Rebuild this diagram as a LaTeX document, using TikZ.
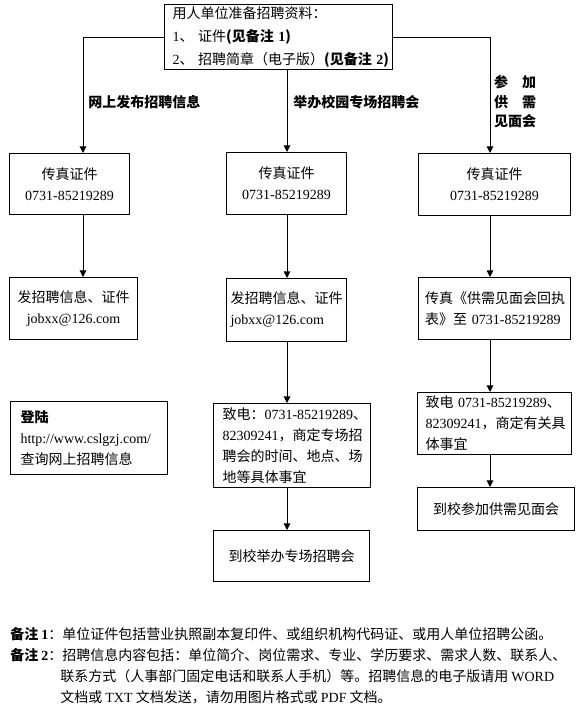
\documentclass[tikz,border=0pt]{standalone}
\usepackage{fontspec}
\setmainfont{Noto Sans CJK SC}
\newfontfamily\lat{Liberation Serif}
\usetikzlibrary{arrows.meta}

\begin{document}
\begin{tikzpicture}[x=0.75pt, y=-0.75pt,
  font=\fontsize{10.5}{15.75}\selectfont,
  box/.style={draw, line width=0.75pt, inner xsep=6pt, inner ysep=0pt, anchor=north west},
  lbl/.style={font=\fontsize{10.5}{15.75}\selectfont\bfseries, inner sep=0pt},
  arr/.style={line width=0.75pt, -{Triangle[length=5pt, width=5pt]}}]
  \useasboundingbox (0,0) rectangle (579,721);

  \node[box, text width=159pt, minimum height=48.75pt, align=left,
    font=\fontsize{10.5}{17.6}\selectfont] (top) at (164,4)
    {用人单位准备招聘资料：\\
     \mbox{{\lat 1}、 证件{\bfseries (见备注 {\lat 1})}}\\
     \mbox{{\lat 2}、 招聘简章（电子版）{\bfseries (见备注 {\lat 2})}}};

  \coordinate (ka) at (83,36);
  \coordinate (kb) at (287,36);
  \coordinate (kc) at (490,39);

  \node[lbl, anchor=west] (labela) at (88,102) {网上发布招聘信息};
  \node[lbl, anchor=west] (labelb) at (293,102) {举办校园专场招聘会};
  \node[lbl, align=left, font=\fontsize{10.5}{14.6}\selectfont\bfseries] (labelc) at (515,102)
    {参\quad 加\\供\quad 需\\见面会};

  \node[box, text width=78pt, minimum height=45.75pt, align=center] (faxa) at (9,153)
    {传真证件\\{\lat 0731-85219289}};
  \node[box, text width=78pt, minimum height=46.5pt, align=center] (faxb) at (226,152)
    {传真证件\\{\lat 0731-85219289}};
  \node[box, text width=102pt, minimum height=46.5pt, align=center] (faxc) at (418,153)
    {传真证件\\{\lat 0731-85219289}};

  \node[box, text width=84pt, minimum height=46.5pt, align=center] (senda) at (9,277)
    {发招聘信息、证件\\{\lat jobxx@126.com}};
  \node[box, inner xsep=3pt, text width=84pt, minimum height=47.25pt, align=left] (sendb) at (226,278)
    {发招聘信息、证件\\{\lat jobxx@126.com}};
  \node[box, inner xsep=5pt, text width=104pt, minimum height=46.5pt, align=left] (faxform) at (418,277)
    {传真《供需见面会回执\\\mbox{表》至 {\lat 0731-85219289}}};

  \node[box, inner xsep=7.5pt, text width=102.75pt, minimum height=54.75pt, align=left] (login) at (10,401)
    {{\bfseries 登陆}\\{\lat http://www.cslgzj.com/}\\查询网上招聘信息};
  \node[box, inner xsep=6.75pt, text width=104.25pt, minimum height=63pt, align=left] (callb) at (213,403)
    {\mbox{致电：{\lat 0731-85219289}、}\\\mbox{{\lat 82309241}，商定专场招}\\聘会的时间、地点、场\\地等具体事宜};
  \node[box, text width=105pt, minimum height=38.25pt, align=center] (meetb) at (213,530)
    {到校举办专场招聘会};
  \node[box, text width=103.5pt, minimum height=46.5pt, align=left] (callc) at (417,392)
    {\mbox{致电 {\lat 0731-85219289}、}\\\mbox{{\lat 82309241}，商定有关具}\\体事宜};
  \node[box, text width=105.75pt, minimum height=32.25pt, align=center] (meetc) at (417,487)
    {到校参加供需见面会};

  \draw[arr] (top.west) -| (ka |- faxa.north);
  \draw[arr] (kb |- top.south) -- (kb |- faxb.north);
  \draw[arr] (top.east) -| (kc |- faxc.north);
  \draw[arr] (ka |- faxa.south) -- (ka |- senda.north);
  \draw[arr] (kb |- faxb.south) -- (kb |- sendb.north);
  \draw[arr] (kc |- faxc.south) -- (kc |- faxform.north);
  \draw[arr] (kb |- sendb.south) -- (kb |- callb.north);
  \draw[arr] (kb |- callb.south) -- (kb |- meetb.north);
  \draw[arr] (kc |- faxform.south) -- (kc |- callc.north);
  \draw[arr] (kc |- callc.south) -- (kc |- meetc.north);

  \node[anchor=west, inner sep=0pt] (notea) at (10,634)
    {{\bfseries 备注 {\lat 1}}：单位证件包括营业执照副本复印件、或组织机构代码证、或用人单位招聘公函。};
  \node[anchor=north west, inner sep=0pt, align=left] (noteb) at (10,648)
    {{\bfseries 备注 {\lat 2}}：招聘信息内容包括：单位简介、岗位需求、专业、学历要求、需求人数、联系人、\\
     \hspace*{37.5pt}联系方式（人事部门固定电话和联系人手机）等。招聘信息的电子版请用 {\lat WORD}\\
     \hspace*{37.5pt}文档或 {\lat TXT} 文档发送，请勿用图片格式或 {\lat PDF} 文档。};
\end{tikzpicture}
\end{document}
